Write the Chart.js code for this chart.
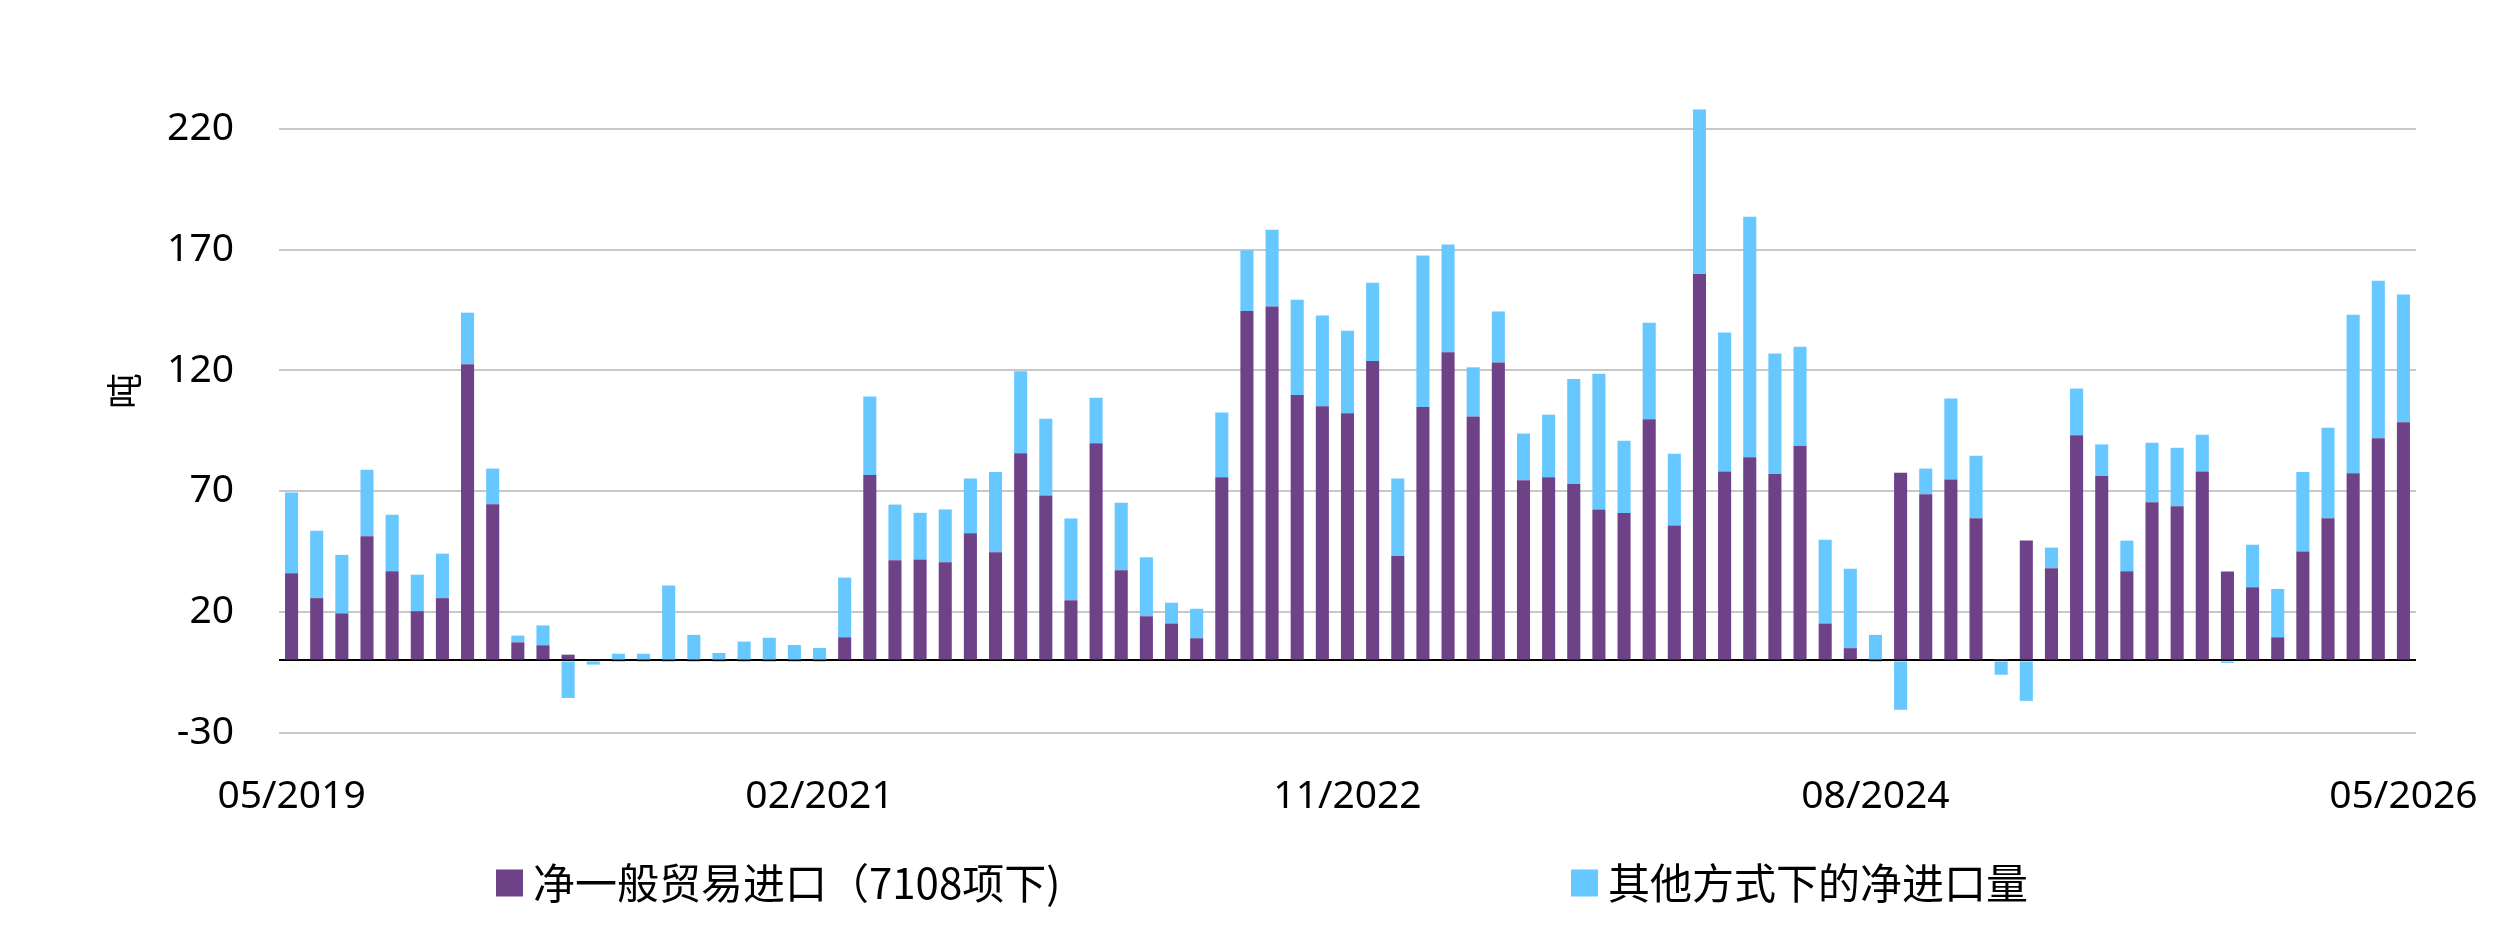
<!DOCTYPE html>
<html>
<head>
<meta charset="utf-8">
<script src="https://cdn.jsdelivr.net/npm/chart.js@4.4.1/dist/chart.umd.min.js"></script>
<style>
  html, body { margin: 0; padding: 0; background: #fff; }
  #chart { display: block; }
</style>
</head>
<body>
<canvas id="chart" width="2501" height="938"></canvas>
<script>
// Catégories mensuelles
const months = [
    '05/2019', '06/2019', '07/2019', '08/2019', '09/2019', '10/2019', '11/2019', '12/2019',
    '01/2020', '02/2020', '03/2020', '04/2020', '05/2020', '06/2020', '07/2020', '08/2020', '09/2020', '10/2020', '11/2020', '12/2020',
    '01/2021', '02/2021', '03/2021', '04/2021', '05/2021', '06/2021', '07/2021', '08/2021', '09/2021', '10/2021', '11/2021', '12/2021',
    '01/2022', '02/2022', '03/2022', '04/2022', '05/2022', '06/2022', '07/2022', '08/2022', '09/2022', '10/2022', '11/2022', '12/2022',
    '01/2023', '02/2023', '03/2023', '04/2023', '05/2023', '06/2023', '07/2023', '08/2023', '09/2023', '10/2023', '11/2023', '12/2023',
    '01/2024', '02/2024', '03/2024', '04/2024', '05/2024', '06/2024', '07/2024', '08/2024', '09/2024', '10/2024', '11/2024', '12/2024',
    '01/2025', '02/2025', '03/2025', '04/2025', '05/2025', '06/2025', '07/2025', '08/2025', '09/2025', '10/2025', '11/2025', '12/2025',
    '01/2026', '02/2026', '03/2026', '04/2026', '05/2026'
];

// Étiquettes affichées sur les axes
const xTickLabels = ['05/2019', '02/2021', '11/2022', '08/2024', '05/2026'];
const yTicks = [-30, 0, 20, 70, 120, 170, 220];

// Séries (tonnes)
const generalTrade = [
    36.1, 25.8, 19.5, 51.4, 36.9, 20.4, 25.8, 122.6, 64.6, 7.5, 6.3,
    2.4, 0.5, -0.3, -0.3, -0.3, -0.3, -0.3, -0.3, -0.3, -0.3, -0.3,
    9.6, 76.7, 41.5, 41.8, 40.6, 52.6, 44.8, 85.7, 68.3, 24.9, 89.9,
    37.3, 18.3, 15.3, 9.2, 75.8, 144.6, 146.5, 109.8, 105.2, 102.3,
    123.9, 43.2, 104.9, 127.5, 101.0, 123.3, 74.6, 75.8, 73.0, 62.5,
    61.0, 99.8, 55.9, 159.9, 78.2, 84.1, 77.2, 88.7, 15.3, 5.1, -0.3,
    77.7, 68.8, 74.9, 58.9, 0.6, 49.6, 38.2, 93.2, 76.3, 36.9,
    65.5, 63.8, 78.2, 36.8, 30.3, 9.6, 45.1, 58.9, 77.5, 92.0, 98.6
];
const otherTrade = [
    33.4, 27.9, 24.2, 27.5, 23.4, 15.1, 18.4, 21.3, 14.8, 2.8, 8.2,
    -15.5, -1.7, 2.8, 2.8, 31.0, 10.6, 3.1, 7.8, 9.4, 6.4, 5.2,
    24.7, 32.5, 23.0, 19.3, 21.9, 22.7, 33.2, 34.0, 31.7, 33.8, 18.8,
    28.0, 24.4, 8.6, 12.2, 26.8, 25.1, 31.7, 39.5, 37.5, 34.1,
    32.4, 32.1, 62.7, 44.6, 20.3, 21.1, 19.3, 25.9, 43.5, 56.1,
    29.9, 39.9, 29.6, 68.1, 57.5, 99.5, 49.8, 41.1, 34.7, 32.9, 10.6,
    -20.4, 10.6, 33.5, 25.8, -5.9, -16.7, 8.5, 19.3, 13.1, 12.7,
    24.6, 24.2, 15.2, -1.0, 17.6, 20.0, 32.9, 37.4, 65.5, 65.1, 52.8
];

const seriesNames = ['净一般贸易进口（7108项下)', '其他方式下的净进口量'];
const seriesColors = ['#6E4287', '#66C8FF'];

// Légende dessinée sous le graphique
const bottomLegend = {
    id: 'bottomLegend',
    afterDraw(chart, args, opts) {
        const ctx = chart.ctx;
        ctx.save();
        ctx.font = opts.font;
        ctx.textBaseline = 'middle';
        chart.data.datasets.forEach((ds, i) => {
            const x = opts.starts[i];
            ctx.fillStyle = ds.backgroundColor;
            ctx.fillRect(x, opts.y - opts.box / 2, opts.box, opts.box);
            ctx.fillStyle = '#000';
            ctx.fillText(ds.label, x + opts.box + opts.gap, opts.y);
        });
        ctx.restore();
    }
};

const tickFont = { family: "'Noto Sans', 'Open Sans', sans-serif", size: 39 };

new Chart(document.getElementById('chart'), {
    type: 'bar',
    data: {
        labels: months,
        datasets: [
            {
                label: seriesNames[0],
                data: generalTrade,
                backgroundColor: seriesColors[0],
                stack: 'imports',
                barPercentage: 0.52,
                categoryPercentage: 1.0
            },
            {
                label: seriesNames[1],
                data: otherTrade,
                backgroundColor: seriesColors[1],
                stack: 'imports',
                barPercentage: 0.52,
                categoryPercentage: 1.0
            }
        ]
    },
    options: {
        responsive: false,
        devicePixelRatio: 1,
        animation: false,
        layout: {
            padding: { top: 49, right: 85, bottom: 121, left: 0 }
        },
        plugins: {
            legend: { display: false },
            tooltip: { enabled: false },
            bottomLegend: {
                font: "42px 'Noto Sans CJK SC', sans-serif",
                y: 883,
                box: 27,
                gap: 10,
                starts: [496, 1571]
            }
        },
        scales: {
            x: {
                stacked: true,
                grid: { display: false },
                border: { display: false },
                afterFit: scale => {
                    scale.height = 84;
                    scale.paddingLeft = 0;
                    scale.paddingRight = 0;
                },
                ticks: {
                    autoSkip: false,
                    maxRotation: 0,
                    minRotation: 0,
                    padding: 32,
                    color: '#000',
                    font: tickFont,
                    callback: (val, idx) => xTickLabels.includes(months[idx]) ? months[idx] : ''
                }
            },
            y: {
                stacked: true,
                min: -30,
                max: 253,
                afterBuildTicks: scale => {
                    scale.ticks = yTicks.map(v => ({ value: v }));
                },
                afterFit: scale => {
                    scale.width = 279;
                    scale.paddingTop = 0;
                    scale.paddingBottom = 0;
                },
                border: { display: false },
                grid: {
                    drawTicks: false,
                    lineWidth: 2,
                    color: ctx => ctx.tick && ctx.tick.value === 0 ? '#000' : '#c8c8c8'
                },
                ticks: {
                    padding: 45,
                    color: '#000',
                    font: tickFont,
                    callback: v => v === 0 ? '' : v
                },
                title: {
                    display: true,
                    text: '吨',
                    color: '#000',
                    font: { family: "'Noto Sans CJK SC', sans-serif", size: 36 },
                    padding: { top: 103, bottom: 0 }
                }
            }
        }
    },
    plugins: [bottomLegend]
});
</script>
</body>
</html>
